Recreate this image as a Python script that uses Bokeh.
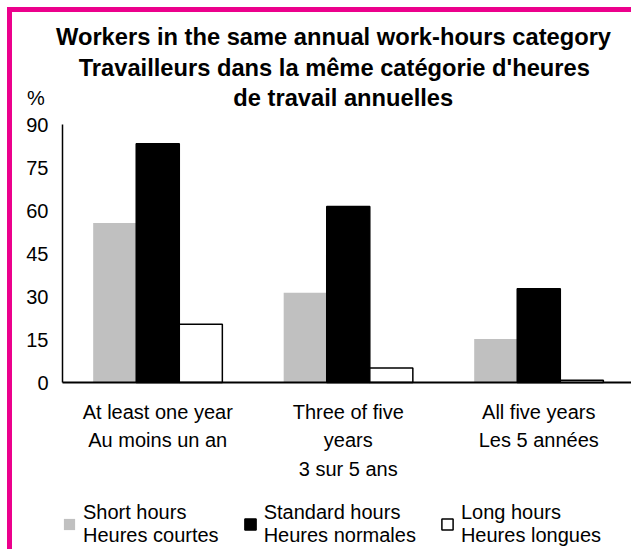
from bokeh.plotting import figure
from bokeh.models import Range1d, FixedTicker, Label, Legend, LegendItem, ColumnDataSource
from bokeh.embed import file_html
from bokeh.resources import INLINE

# ---- data ----
categories = ["At least one year\nAu moins un an",
              "Three of five\nyears\n3 sur 5 ans",
              "All five years\nLes 5 années"]
series_names = ["Short hours\nHeures courtes",
                "Standard hours\nHeures normales",
                "Long hours\nHeures longues"]
short_hours = [55.6, 31.3, 15.2]
standard_hours = [83.3, 61.4, 32.7]
long_hours = [20.3, 5.1, 0.8]
y_ticks = [0, 15, 30, 45, 60, 75, 90]
title_lines = ["Workers in the same annual work-hours category",
               "Travailleurs dans la même catégorie d'heures",
               "de travail annuelles"]
y_unit = "%"

FONT = "Liberation Sans"
PINK = "#EC008C"
BAR_W = 0.226

# the plotting frame covers the whole canvas; the axes are pinned at 0
p = figure(width=624, height=542, output_backend="svg", toolbar_location=None, title=None,
           x_range=Range1d(-0.2625, 3.013), y_range=Range1d(-60.0, 129.07),
           min_border_left=0, min_border_right=0, min_border_top=0, min_border_bottom=0)
p.styles = {"margin-left": "7px", "margin-top": "7px",
            "border-left": f"5px solid {PINK}", "border-top": f"5px solid {PINK}"}
p.xgrid.visible = False
p.ygrid.visible = False
p.outline_line_color = None
p.background_fill_color = "white"
p.border_fill_color = "white"

n = len(categories)
centers = [i + 0.5 for i in range(n)]
series = [(short_hours, "#C0C0C0", None, -BAR_W),
          (standard_hours, "black", "black", 0.0),
          (long_hours, "white", "black", BAR_W)]
items = []
for (vals, fill, line, off), name in zip(series, series_names):
    src = ColumnDataSource(dict(x=[c + off for c in centers], top=vals))
    r = p.vbar(x="x", top="top", bottom=0, width=BAR_W, source=src,
               fill_color=fill, line_color=line, line_width=1.5)
    items.append(LegendItem(label=name, renderers=[r]))

# y axis
p.yaxis.fixed_location = 0
p.yaxis.bounds = (y_ticks[0], y_ticks[-1])
p.yaxis.ticker = FixedTicker(ticks=y_ticks)
p.yaxis.major_tick_in = 0
p.yaxis.major_tick_out = 0
p.yaxis.minor_tick_line_color = None
p.yaxis.axis_line_width = 1.5
p.yaxis.axis_line_color = "black"
p.yaxis.major_label_text_font = FONT
p.yaxis.major_label_text_font_size = "20px"
p.yaxis.major_label_text_color = "black"
p.yaxis.major_label_standoff = 14

# x axis
p.xaxis.fixed_location = 0
p.xaxis.bounds = (0, n)
p.xaxis.ticker = FixedTicker(ticks=centers)
p.xaxis.major_label_overrides = {c: lab for c, lab in zip(centers, categories)}
p.xaxis.major_tick_in = 0
p.xaxis.major_tick_out = 0
p.xaxis.minor_tick_line_color = None
p.xaxis.axis_line_width = 2
p.xaxis.axis_line_color = "black"
p.xaxis.major_label_text_font = FONT
p.xaxis.major_label_text_font_size = "20px"
p.xaxis.major_label_text_line_height = 1.3
p.xaxis.major_label_text_color = "black"
p.xaxis.major_label_standoff = 18

# titles and unit (text positions)
title_y = [120.5, 109.8, 99.1]
title_dx = [-14.75, -14, -5]
for line, ty, dx in zip(title_lines, title_y, title_dx):
    p.add_layout(Label(x=1.5, y=ty, x_offset=dx, text=line,
                       text_align="center", text_baseline="alphabetic",
                       text_font=FONT, text_font_size="23.7px",
                       text_font_style="bold", text_color="black"))
p.add_layout(Label(x=0, y=99.1, x_offset=-26.5, text=y_unit,
                   text_align="center", text_baseline="alphabetic",
                   text_font=FONT, text_font_size="20px", text_color="black"))

legend = Legend(items=items, orientation="horizontal", location=(50, 7),
                label_text_font=FONT, label_text_font_size="20px",
                label_text_line_height=1.45,
                label_text_color="black", glyph_width=14, glyph_height=14,
                label_standoff=7, spacing=24, padding=0, margin=0,
                border_line_color=None, background_fill_alpha=0)
p.add_layout(legend, "center")

open("out.html", "w").write(file_html(p, INLINE))
